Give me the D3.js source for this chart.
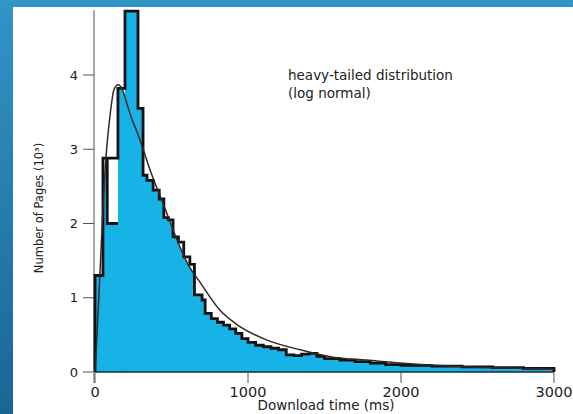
<!DOCTYPE html>
<html>
<head>
<meta charset="utf-8">
<script src="https://cdn.jsdelivr.net/npm/d3@7"></script>
<style>
  html, body { margin: 0; padding: 0; background: #fff; }
  svg { display: block; }
  text { font-family: "DejaVu Sans", sans-serif; fill: #222; }
</style>
</head>
<body>
<div id="chart"></div>
<script>
// histogram of page download times (ms) -> number of pages (10^3)
const binEdges = [0, 52, 150, 196, 281, 314, 340, 380, 420, 450, 480, 510, 545, 580, 620, 650,
  700, 720, 760, 800, 840, 880, 920, 960, 1000, 1050, 1100, 1150, 1200, 1250, 1300, 1350,
  1400, 1450, 1500, 1600, 1700, 1800, 1900, 2000, 2200, 2400, 2600, 2800, 3000];
const binCounts = [1.30, 2.88, 3.82, 4.86, 3.55, 2.65, 2.58, 2.45, 2.33, 2.08, 2.05, 1.82, 1.75,
  1.55, 1.45, 1.04, 0.97, 0.79, 0.72, 0.67, 0.63, 0.58, 0.52, 0.45, 0.40, 0.36, 0.34, 0.32,
  0.30, 0.23, 0.22, 0.24, 0.25, 0.21, 0.18, 0.16, 0.14, 0.12, 0.10, 0.09, 0.08, 0.07, 0.06, 0.05];
// inner (overlapping) bin inside the second bar
const innerBin = [80, 150, 2.0];
// bins that are shaded all the way up
const solidBins = [0, 3, 4];

// fitted log normal curve
const fitMs = [0, 13, 33, 52, 72, 98, 124, 150, 176, 203, 242, 281, 360, 458, 556, 608, 686,
  817, 948, 1124, 1340, 1556, 1778, 1993, 2320, 2647, 3000];
const fitVal = [0, 0.5, 1.35, 2.2, 2.9, 3.45, 3.8, 3.87, 3.82, 3.65, 3.4, 3.2, 2.72, 2.2,
  1.68, 1.45, 1.21, 0.83, 0.61, 0.43, 0.30, 0.20, 0.16, 0.12, 0.08, 0.055, 0.04];

const xTicks = [0, 1000, 2000, 3000];
const yTicks = [0, 1, 2, 3, 4];

const W = 573, H = 414;

const svg = d3.select('#chart').append('svg')
  .attr('width', W)
  .attr('height', H);

const defs = svg.append('defs');
const grad = defs.append('linearGradient')
  .attr('id', 'bg')
  .attr('x1', 0).attr('y1', 0).attr('x2', 0).attr('y2', 1);
grad.append('stop').attr('offset', '0%').attr('stop-color', '#3195c6');
grad.append('stop').attr('offset', '100%').attr('stop-color', '#1a6596');

svg.append('rect').attr('width', W).attr('height', H).attr('fill', 'url(#bg)');
svg.append('rect')
  .attr('x', 13).attr('y', 7)
  .attr('width', W - 13).attr('height', H - 7)
  .attr('fill', '#fff');

const x = d3.scaleLinear().domain([0, 3000]).range([95, 554]);
const y = d3.scaleLinear().domain([0, 4]).range([372, 75]);

const bins = binCounts.map((c, i) => ({ lo: binEdges[i], hi: binEdges[i + 1], c }));

function stepPoints(list) {
  const pts = [[list[0].lo, 0]];
  list.forEach(b => { pts.push([b.lo, b.c], [b.hi, b.c]); });
  pts.push([list[list.length - 1].hi, 0]);
  return pts;
}

const line = d3.line().x(d => x(d[0])).y(d => y(d[1]));

// shading region: histogram with the inner bin lowered
const shadeBins = [];
bins.forEach(b => {
  if (b.lo <= innerBin[0] && b.hi >= innerBin[1]) {
    shadeBins.push({ lo: b.lo, hi: innerBin[0], c: b.c });
    shadeBins.push({ lo: innerBin[0], hi: innerBin[1], c: innerBin[2] });
  } else {
    shadeBins.push(b);
  }
});

defs.append('clipPath').attr('id', 'histClip')
  .append('path')
  .attr('d', line(stepPoints(shadeBins)) + 'Z');

const fit = fitMs.map((m, i) => [m, fitVal[i]]);

const shade = svg.append('g').attr('clip-path', 'url(#histClip)');
shade.append('path')
  .attr('d', d3.area()
    .x(d => x(d[0]))
    .y0(y(0))
    .y1(d => y(d[1]))
    .curve(d3.curveMonotoneX)(fit))
  .attr('fill', '#17b3e6');
shade.selectAll('rect.solid')
  .data(solidBins.map(i => bins[i]))
  .join('rect')
  .attr('class', 'solid')
  .attr('x', d => x(d.lo))
  .attr('y', d => y(d.c))
  .attr('width', d => x(d.hi) - x(d.lo))
  .attr('height', d => y(0) - y(d.c))
  .attr('fill', '#17b3e6');

// axes
const axisColor = '#555';
svg.append('line')
  .attr('x1', 94).attr('x2', 94)
  .attr('y1', 10).attr('y2', 383)
  .attr('stroke', axisColor).attr('stroke-width', 1);

svg.selectAll('line.ytick')
  .data(yTicks)
  .join('line')
  .attr('class', 'ytick')
  .attr('x1', 83).attr('x2', 94)
  .attr('y1', d => y(d)).attr('y2', d => y(d))
  .attr('stroke', axisColor);

svg.selectAll('text.ylab')
  .data(yTicks)
  .join('text')
  .attr('class', 'ylab')
  .attr('x', 78)
  .attr('y', d => y(d))
  .attr('dy', '0.36em')
  .attr('text-anchor', 'end')
  .attr('font-size', 13)
  .text(d => d);

svg.selectAll('line.xtick')
  .data(xTicks)
  .join('line')
  .attr('class', 'xtick')
  .attr('x1', d => x(d)).attr('x2', d => x(d))
  .attr('y1', 373).attr('y2', 383)
  .attr('stroke', axisColor);

svg.selectAll('text.xlab')
  .data(xTicks)
  .join('text')
  .attr('class', 'xlab')
  .attr('x', d => x(d))
  .attr('y', 397)
  .attr('text-anchor', 'middle')
  .attr('font-size', 14.5)
  .text(d => d);

svg.append('line')
  .attr('x1', x(0)).attr('x2', x(3000))
  .attr('y1', y(0)).attr('y2', y(0))
  .attr('stroke', '#1a2a33').attr('stroke-width', 1.5);

// histogram outline
svg.append('path')
  .attr('d', line(stepPoints(bins)))
  .attr('fill', 'none')
  .attr('stroke', '#111')
  .attr('stroke-width', 2.8)
  .attr('stroke-linejoin', 'miter');

svg.append('path')
  .attr('d', line([[innerBin[0], bins[1].c], [innerBin[0], innerBin[2]], [innerBin[1], innerBin[2]]]))
  .attr('fill', 'none')
  .attr('stroke', '#111')
  .attr('stroke-width', 2.8);

// fitted curve
svg.append('path')
  .attr('d', line.curve(d3.curveMonotoneX)(fit))
  .attr('fill', 'none')
  .attr('stroke', '#3a2626')
  .attr('stroke-width', 1.5);

// labels
svg.append('text')
  .attr('transform', 'translate(43,208) rotate(-90)')
  .attr('text-anchor', 'middle')
  .attr('font-size', 11.5)
  .text('Number of Pages (10³)');

svg.append('text')
  .attr('x', 326)
  .attr('y', 410)
  .attr('text-anchor', 'middle')
  .attr('font-size', 13.5)
  .text('Download time (ms)');

const note = svg.append('text')
  .attr('x', 288)
  .attr('y', 80)
  .attr('font-size', 13.5);
note.append('tspan').attr('x', 288).text('heavy-tailed distribution');
note.append('tspan').attr('x', 288).attr('dy', 18).text('(log normal)');
</script>
</body>
</html>
